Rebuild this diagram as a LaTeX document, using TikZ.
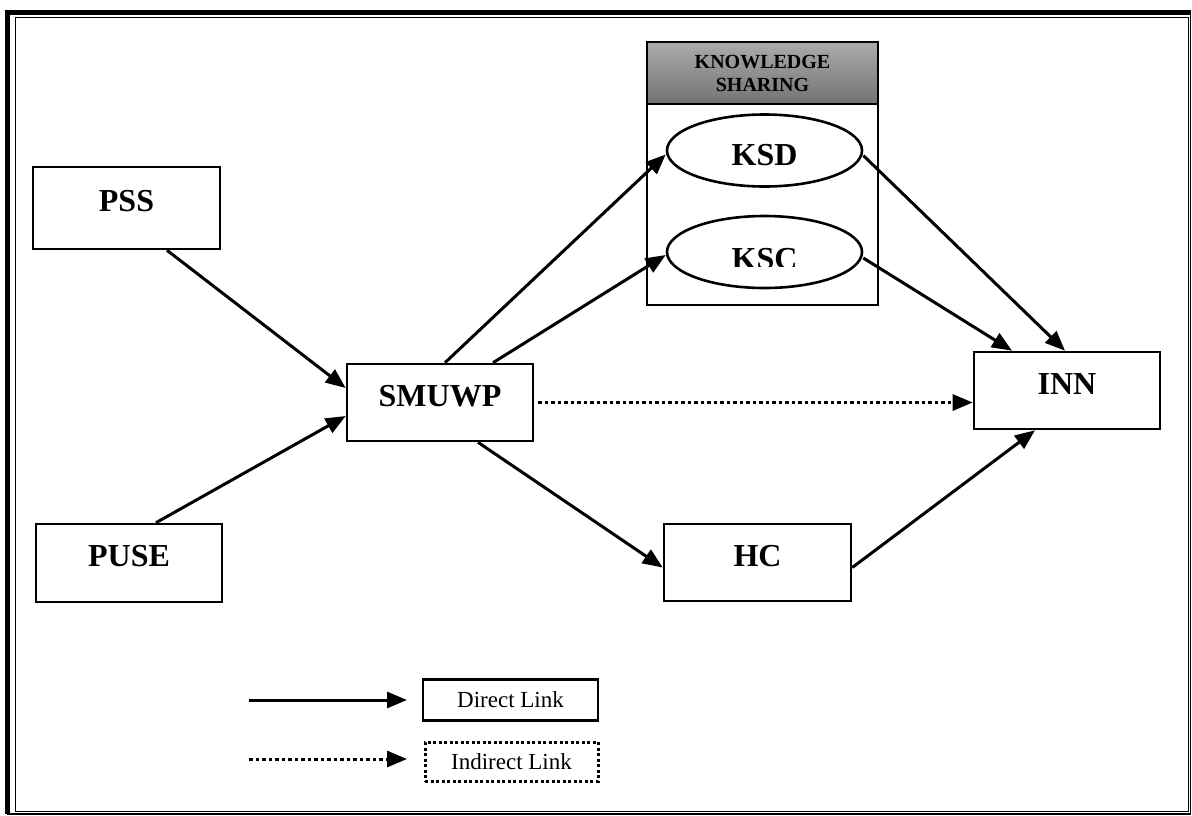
\documentclass[tikz,border=0pt]{standalone}
\usepackage{fontspec}
\setmainfont{Liberation Serif}
\usepackage{tikz}
\usetikzlibrary{shapes.geometric,arrows.meta}

\begin{document}
\begin{tikzpicture}[x=1pt,y=-1pt,
  var/.style={draw,line width=2.6pt,minimum width=186pt,minimum height=77pt,
    font=\fontsize{32}{36}\selectfont\bfseries,text height=21pt,text depth=14pt},
  ksvar/.style={draw,ellipse,line width=2.6pt,minimum width=195pt,minimum height=72pt,inner sep=0pt,
    font=\fontsize{32}{36}\selectfont\bfseries,text height=30pt,text depth=0pt},
  link/.style={line width=3pt,-{Triangle[length=20pt,width=16pt]}},
  ilink/.style={link,dash pattern=on 3.5pt off 3pt},
  legbox/.style={line width=2.2pt,font=\fontsize{23}{26}\selectfont,inner sep=0pt}]
\useasboundingbox (0,0) rectangle (1192,815);
% frame
\draw[line width=1.2pt] (8,12) rectangle (1190.5,814);
\draw[line width=5pt] (7.5,814) -- (7.5,12.5) -- (1191,12.5);
\draw[line width=1pt] (15,17.5) rectangle (1188,811.5);

% knowledge sharing block
\node[draw,line width=2.2pt,minimum width=231pt,minimum height=263pt] (ks) at (762.5,173.5) {};
\node[draw,line width=2.2pt,minimum width=231pt,minimum height=62pt,top color=black!33,bottom color=black!55,
  align=center,font=\fontsize{20}{23}\selectfont\bfseries] (ksh) at (762.5,73) {KNOWLEDGE\\SHARING};
\node[ksvar] (ksd) at (764.5,150.5) {KSD};
\node[ksvar] (ksc) at (764.5,252) {};
\begin{scope}
\clip (650,200) rectangle (875,266.5);
\node[font=\fontsize{32}{36}\selectfont\bfseries] (ksct) at (764.5,259) {KSC};
\end{scope}

% constructs
\node[var,minimum width=187pt,minimum height=82pt] (pss) at (126.5,208) {PSS};
\node[var,minimum height=78pt] (puse) at (129,563) {PUSE};
\node[var] (smuwp) at (440,402.5) {SMUWP};
\node[var,minimum width=187pt] (hc) at (757.5,562.5) {HC};
\node[var] (inn) at (1067,390.5) {INN};

% paths
\draw[link] ([xshift=40.5pt]pss.south) -- ([yshift=14.5pt]smuwp.west);
\draw[link] ([xshift=27pt]puse.north) -- ([yshift=-13.5pt]smuwp.west);
\draw[link] ([xshift=5pt]smuwp.north) -- ([yshift=-4pt]ksd.west);
\draw[link] ([xshift=53pt]smuwp.north) -- ([yshift=-3pt]ksc.west);
\draw[link] ([xshift=38pt]smuwp.south) -- ([yshift=-5pt]hc.west);
\draw[ilink,shorten <=4pt] (smuwp.east) -- ([yshift=-12pt]inn.west);
\draw[link] ([yshift=-5pt]ksd.east) -- ([xshift=-2pt]inn.north);
\draw[link] ([yshift=-6pt]ksc.east) -- ([xshift=-55pt]inn.north);
\draw[link] ([yshift=-5pt]hc.east) -- ([xshift=-32pt]inn.south);

% legend
\coordinate (d1) at (249,700);
\coordinate (d2) at (407,700);
\coordinate (i1) at (249,759);
\coordinate (i2) at (407,759);
\draw[link] (d1) -- (d2);
\draw[ilink] (i1) -- (i2);
\node[legbox,draw,minimum width=175pt,minimum height=41pt] (direct) at (510.5,700) {Direct Link};
\node[legbox,draw,dash pattern=on 3pt off 2.5pt,line width=3pt,minimum width=173pt,minimum height=39pt] (indirect) at (511.5,761.5) {Indirect Link};
\end{tikzpicture}
\end{document}
